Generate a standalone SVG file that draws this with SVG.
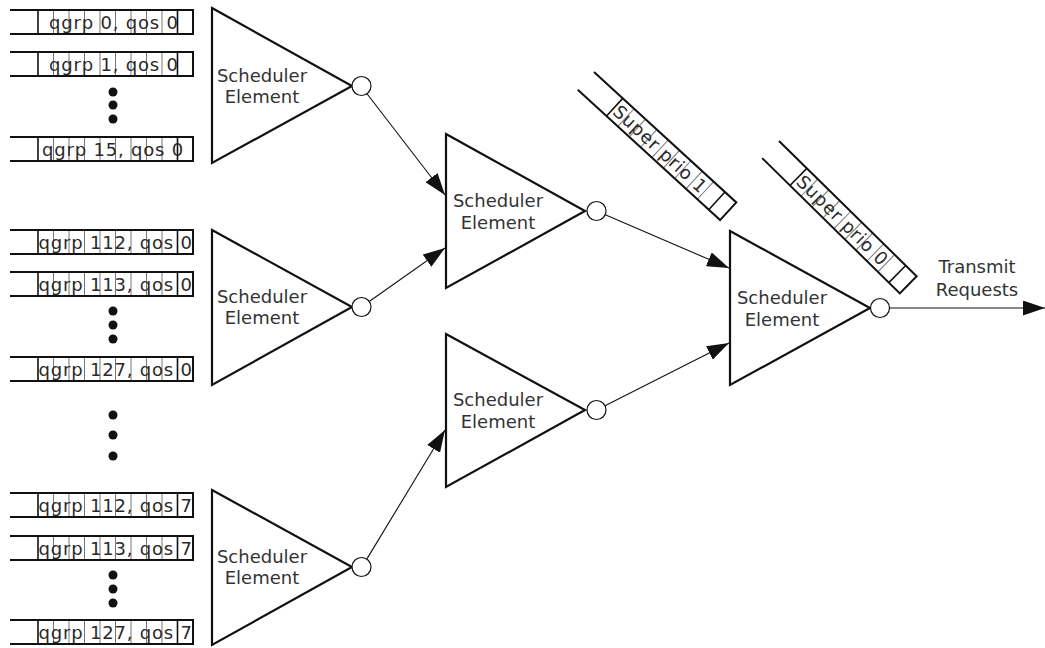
<svg xmlns="http://www.w3.org/2000/svg" xmlns:xlink="http://www.w3.org/1999/xlink" width="1045" height="648" viewBox="0 0 1045 648">
<style>
.frame{fill:none;stroke:#111;stroke-width:2}
.cell{fill:none;stroke:#777;stroke-width:1}
.div{fill:none;stroke:#111;stroke-width:1.6}
.qt{font-family:"DejaVu Sans",Verdana,sans-serif;font-size:18px;letter-spacing:0.8px;fill:#2a2a2a}
.se{fill:#fff;stroke:#111;stroke-width:2.2}
.st{font-family:"DejaVu Sans",Verdana,sans-serif;font-size:18px;fill:#333;text-anchor:middle}
.port{fill:#fff;stroke:#111;stroke-width:1.2}
.dot{fill:#111}
.conn{fill:none;stroke:#111;stroke-width:1.1}
</style>
<defs>
<marker id="ah" markerUnits="userSpaceOnUse" markerWidth="22" markerHeight="15" refX="22" refY="7.5" orient="auto">
<path d="M0,0 L22,7.5 L0,15 z" fill="#111"/>
</marker>
<g id="qframe">
<path class="cell" d="M43.5,0V24M59,0V24M74.5,0V24M90,0V24M105.5,0V24M121,0V24M136.5,0V24M152,0V24"/>
<path class="div" d="M28,0V24M167.5,0V24"/>
<path class="frame" d="M0,0H183V24H0"/>
</g>
<g id="rframe">
<path class="cell" d="M54.4,0V24M69.8,0V24M85.2,0V24M100.6,0V24M116,0V24M131.4,0V24M146.8,0V24M162.2,0V24"/>
<path class="div" d="M39,0V24M177.6,0V24"/>
<path class="frame" d="M0,0H193V24H0"/>
</g>
</defs>

<g id="q0_0" transform="translate(10,10)"><use xlink:href="#qframe"/><text class="qt" x="39" y="18.5">qgrp 0, qos 0</text></g>
<g id="q1_0" transform="translate(10,52)"><use xlink:href="#qframe"/><text class="qt" x="39" y="18.5">qgrp 1, qos 0</text></g>
<g id="q15_0" transform="translate(10,137)"><use xlink:href="#qframe"/><text class="qt" x="32" y="18.5">qgrp 15, qos 0</text></g>
<g id="dots1"><circle class="dot" cx="113" cy="92" r="4.5"/><circle class="dot" cx="113" cy="105" r="4.5"/><circle class="dot" cx="113" cy="119" r="4.5"/></g>

<g id="q112_0" transform="translate(10,230)"><use xlink:href="#qframe"/><text class="qt" x="28.5" y="18.5">qgrp 112, qos 0</text></g>
<g id="q113_0" transform="translate(10,272)"><use xlink:href="#qframe"/><text class="qt" x="28.5" y="18.5">qgrp 113, qos 0</text></g>
<g id="q127_0" transform="translate(10,357)"><use xlink:href="#qframe"/><text class="qt" x="28.5" y="18.5">qgrp 127, qos 0</text></g>
<g id="dots2"><circle class="dot" cx="113" cy="311" r="4.5"/><circle class="dot" cx="113" cy="325" r="4.5"/><circle class="dot" cx="113" cy="339" r="4.5"/></g>

<g id="dots_mid"><circle class="dot" cx="113" cy="415" r="4.5"/><circle class="dot" cx="113" cy="435" r="4.5"/><circle class="dot" cx="113" cy="456" r="4.5"/></g>

<g id="q112_7" transform="translate(10,493)"><use xlink:href="#qframe"/><text class="qt" x="28.5" y="18.5">qgrp 112, qos 7</text></g>
<g id="q113_7" transform="translate(10,536)"><use xlink:href="#qframe"/><text class="qt" x="28.5" y="18.5">qgrp 113, qos 7</text></g>
<g id="q127_7" transform="translate(10,620)"><use xlink:href="#qframe"/><text class="qt" x="28.5" y="18.5">qgrp 127, qos 7</text></g>
<g id="dots3"><circle class="dot" cx="113" cy="575" r="4.5"/><circle class="dot" cx="113" cy="589" r="4.5"/><circle class="dot" cx="113" cy="603" r="4.5"/></g>

<g id="sp1" transform="translate(594,72) rotate(42.5)"><use xlink:href="#rframe"/><text class="qt" x="41" y="18.5">Super prio 1</text></g>
<g id="sp0" transform="translate(779,141) rotate(44.5)"><use xlink:href="#rframe"/><text class="qt" x="41" y="18.5">Super prio 0</text></g>

<g id="se1"><path class="se" d="M212,8L352,86L212,163z"/><text class="st" x="262" y="82">Scheduler</text><text class="st" x="262" y="103">Element</text><circle class="port" cx="361.5" cy="86" r="9.5"/></g>
<g id="se4"><path class="se" d="M212,230L352,307L212,385z"/><text class="st" x="262" y="303">Scheduler</text><text class="st" x="262" y="324">Element</text><circle class="port" cx="361.5" cy="307" r="9.5"/></g>
<g id="se5"><path class="se" d="M212,490L352,567L212,645z"/><text class="st" x="262" y="563">Scheduler</text><text class="st" x="262" y="584">Element</text><circle class="port" cx="361.5" cy="567" r="9.5"/></g>
<g id="se2"><path class="se" d="M446,134L585,211L446,288z"/><text class="st" x="498" y="207">Scheduler</text><text class="st" x="498" y="229">Element</text><circle class="port" cx="596.5" cy="211" r="9.5"/></g>
<g id="se3"><path class="se" d="M446,334L585,410L446,487z"/><text class="st" x="498" y="406">Scheduler</text><text class="st" x="498" y="428">Element</text><circle class="port" cx="596.5" cy="410" r="9.5"/></g>
<g id="se6"><path class="se" d="M730,231L870,308L730,385z"/><text class="st" x="782" y="304">Scheduler</text><text class="st" x="782" y="326">Element</text><circle class="port" cx="880" cy="308" r="9.5"/></g>

<g id="connectors">
<line class="conn" x1="366.8" y1="93.5" x2="445" y2="195" marker-end="url(#ah)"/>
<line class="conn" x1="369.2" y1="301.5" x2="445" y2="248" marker-end="url(#ah)"/>
<line class="conn" x1="366.9" y1="558.9" x2="445" y2="430" marker-end="url(#ah)"/>
<line class="conn" x1="605.3" y1="214.8" x2="729" y2="268" marker-end="url(#ah)"/>
<line class="conn" x1="605" y1="405.7" x2="729" y2="343" marker-end="url(#ah)"/>
<line class="conn" x1="889.5" y1="308" x2="1045" y2="308" marker-end="url(#ah)"/>
</g>
<g id="label_tx"><text class="st" x="977" y="273">Transmit</text><text class="st" x="977" y="296">Requests</text></g>
</svg>
